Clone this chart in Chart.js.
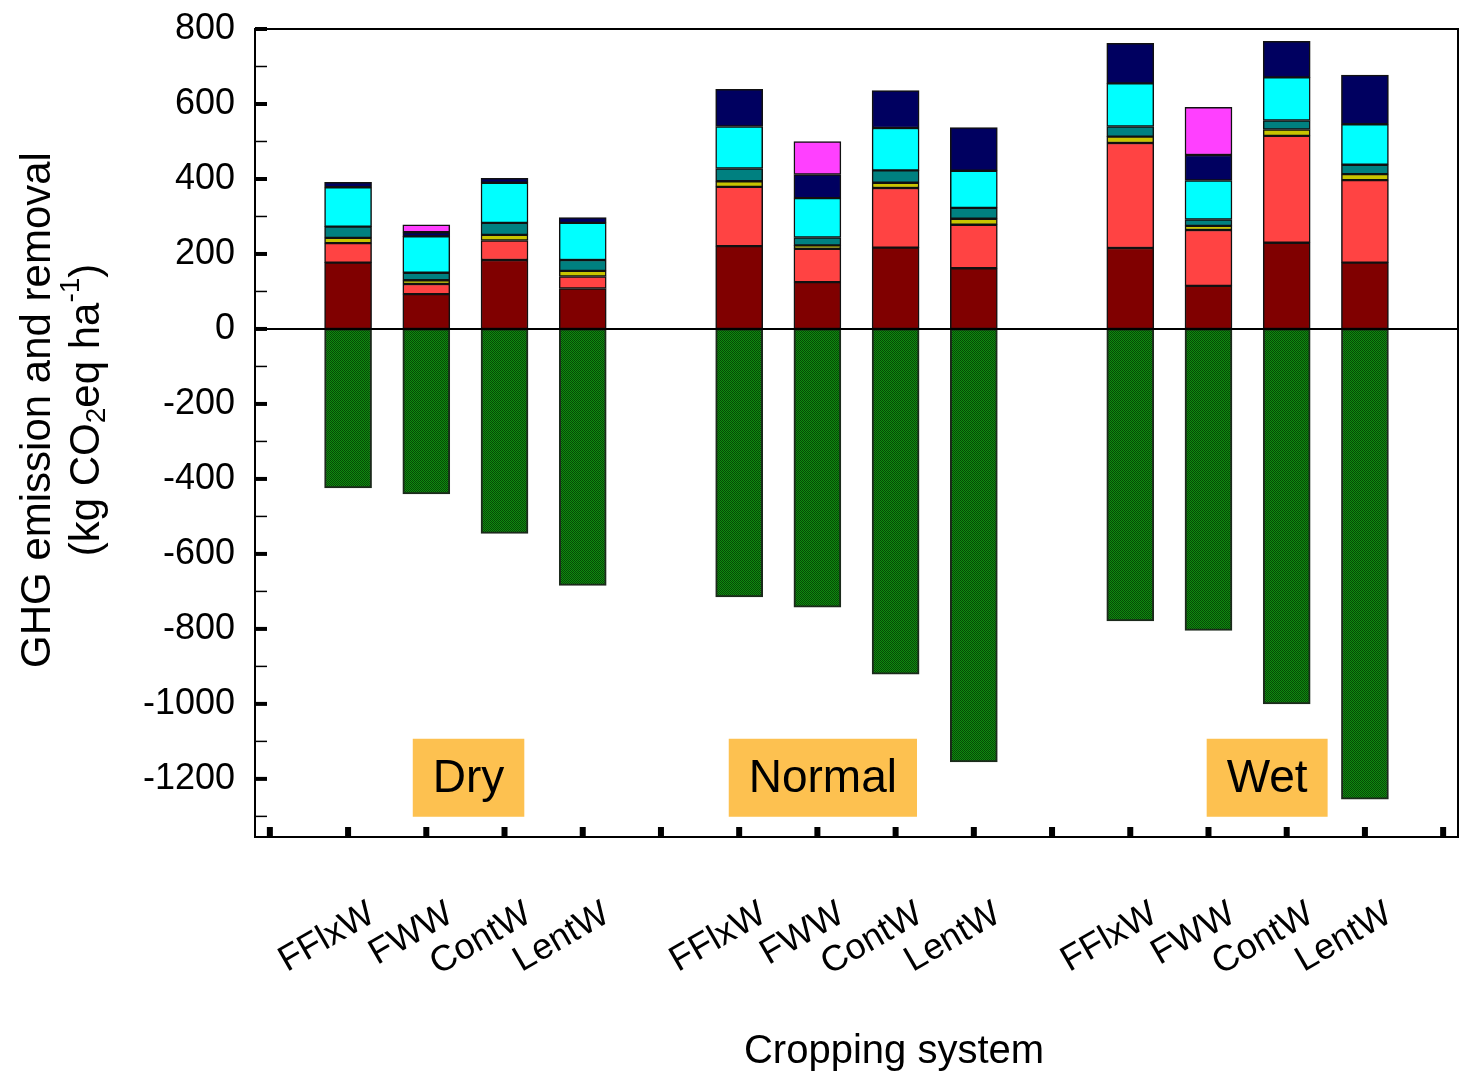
<!DOCTYPE html>
<html lang="en">
<head>
<meta charset="UTF-8">
<title>GHG emission and removal</title>
<script src="https://cdn.jsdelivr.net/npm/chart.js"></script>
<style>
  html, body { margin: 0; padding: 0; background: #fff; }
  #wrap { width: 1460px; height: 1081px; }
</style>
</head>
<body>
<div id="wrap"><canvas id="ghgChart" width="1460" height="1081"></canvas></div>
<script>
// categories
const seasons = ['Dry', 'Normal', 'Wet'];
const crops = ['FFlxW', 'FWW', 'ContW', 'LentW'];

// bar order: Dry (FFlxW, FWW, ContW, LentW), Normal (...), Wet (...)
const emission1 = [177, 93, 184, 108, 221, 125, 217, 162, 216, 115, 230, 177];
const emission2 = [52, 27, 52, 32, 158, 89, 159, 116, 280, 149, 285, 220];
const emission3 = [14, 10, 15, 15, 15, 9, 14, 16, 17, 11, 17, 16];
const emission4 = [30, 20, 32, 29, 34, 21, 33, 29, 27, 17, 24, 25];
const emission5 = [105, 97, 107, 99, 112, 105, 113, 99, 115, 104, 115, 108];
const emission6 = [13, 11, 12, 14, 99, 63, 100, 115, 107, 68, 96, 131];
const emission7 = [null, 20, null, null, null, 88, null, null, null, 127, null, null];
const removal = [-424, -440, -545, -684, -715, -742, -921, -1155, -779, -804, -1000, -1254];

// y axis
const yMin = -1355, yMax = 800, yStep = 200;

// season label boxes (x in slot units, y in data units)
const seasonLabelX = [2.54, 7.07, 12.75];
const seasonLabelY = -1197;

const emissionColors = ['#800000', '#ff4343', '#c8c400', '#008080', '#00ffff', '#000060', '#ff40ff'];
const FONT = "'Liberation Sans', Arial, sans-serif";

// slots: a blank gap before every season and one at the end
const slotLabels = [];
seasons.forEach(() => { slotLabels.push(''); crops.forEach(c => slotLabels.push(c)); });
slotLabels.push('');
const barSlot = [];
seasons.forEach((s, si) => crops.forEach((c, ci) => barSlot.push(si * (crops.length + 1) + ci + 1)));

function points(values) {
  return values.map((v, i) => ({ x: barSlot[i], y: v })).filter(p => p.y !== null);
}

const ctx = document.getElementById('ghgChart').getContext('2d');

function makeHatch() {
  const c = document.createElement('canvas');
  c.width = 2; c.height = 2;
  const g = c.getContext('2d');
  g.fillStyle = '#108a10';
  g.fillRect(0, 0, 2, 2);
  g.fillStyle = '#054a05';
  g.fillRect(0, 0, 1, 1);
  g.fillRect(1, 1, 1, 1);
  return ctx.createPattern(c, 'repeat');
}

const emissionSeries = [emission1, emission2, emission3, emission4, emission5, emission6, emission7];
const datasets = emissionSeries.map((vals, i) => ({
  label: 'Emission ' + (i + 1),
  data: points(vals),
  backgroundColor: emissionColors[i],
  borderColor: '#111',
  borderWidth: 1.5,
  borderSkipped: false,
  barThickness: 47
}));
datasets.push({
  label: 'Removal',
  data: points(removal),
  backgroundColor: makeHatch(),
  borderColor: '#1c2a1c',
  borderWidth: 2,
  borderSkipped: false,
  barThickness: 47
});

const decorations = {
  id: 'decorations',
  afterDatasetsDraw(chart) {
    const { ctx, chartArea: a, scales: { x, y } } = chart;
    ctx.save();
    ctx.strokeStyle = '#000';
    ctx.fillStyle = '#000';

    // zero line
    const y0 = y.getPixelForValue(0);
    ctx.lineWidth = 2;
    ctx.beginPath(); ctx.moveTo(a.left, y0); ctx.lineTo(a.right, y0); ctx.stroke();

    // frame
    ctx.strokeRect(a.left, a.top, a.right - a.left, a.bottom - a.top);

    // y ticks, pointing inward
    for (let v = -1300; v <= yMax; v += 100) {
      const py = y.getPixelForValue(v);
      const major = v % 200 === 0;
      ctx.lineWidth = major ? 4 : 1.5;
      ctx.beginPath(); ctx.moveTo(a.left, py); ctx.lineTo(a.left + 12, py); ctx.stroke();
    }
    // x ticks, pointing inward
    for (let i = 0; i < slotLabels.length; i++) {
      const px = x.getPixelForValue(i);
      ctx.fillRect(px - 3, a.bottom - 10, 6, 10);
    }

    // season boxes
    ctx.font = '46px ' + FONT;
    ctx.textAlign = 'center';
    ctx.textBaseline = 'middle';
    seasons.forEach((s, i) => {
      const cx = x.getPixelForValue(seasonLabelX[i]);
      const cy = y.getPixelForValue(seasonLabelY);
      const w = ctx.measureText(s).width + 40;
      ctx.fillStyle = '#fdc150';
      ctx.fillRect(cx - w / 2, cy - 39, w, 78);
      ctx.fillStyle = '#000';
      ctx.fillText(s, cx, cy + 2);
    });

    // x title
    ctx.font = '40px ' + FONT;
    ctx.fillText('Cropping system', 894, 1052);

    // y title
    ctx.translate(38, 410);
    ctx.rotate(-Math.PI / 2);
    ctx.font = '42px ' + FONT;
    ctx.fillText('GHG emission and removal', 0, 0);
    ctx.translate(0, 49);
    const runs = [
      { t: '(kg CO', size: 42, dy: 0 },
      { t: '2', size: 28, dy: 10 },
      { t: 'eq ha', size: 42, dy: 0 },
      { t: '-1', size: 28, dy: -16 },
      { t: ')', size: 42, dy: 0 }
    ];
    let total = 0;
    runs.forEach(r => { ctx.font = r.size + 'px ' + FONT; r.w = ctx.measureText(r.t).width; total += r.w; });
    let px = -total / 2;
    ctx.textAlign = 'left';
    runs.forEach(r => {
      ctx.font = r.size + 'px ' + FONT;
      ctx.fillText(r.t, px, r.dy);
      px += r.w;
    });
    ctx.restore();
  }
};

new Chart(ctx, {
  type: 'bar',
  data: { datasets },
  options: {
    responsive: false,
    animation: false,
    layout: { padding: { top: 29, right: 2, left: 0, bottom: 0 } },
    plugins: { legend: { display: false }, tooltip: { enabled: false } },
    scales: {
      x: {
        type: 'linear',
        stacked: true,
        offset: false,
        min: -0.19,
        max: 15.19,
        grid: { display: false, drawTicks: false, offset: false },
        border: { display: false },
        ticks: {
          stepSize: 1,
          autoSkip: false,
          includeBounds: false,
          minRotation: 30,
          maxRotation: 30,
          labelOffset: 24,
          padding: 56,
          color: '#000',
          font: { family: FONT, size: 36 },
          callback: v => slotLabels[v] || ''
        },
        afterFit(s) {
          s.height = 244;
          s.paddingLeft = 0; s.paddingRight = 0;
        }
      },
      y: {
        stacked: true,
        min: yMin,
        max: yMax,
        grid: { display: false, drawTicks: false },
        border: { display: false },
        ticks: {
          stepSize: yStep,
          includeBounds: false,
          padding: 20,
          color: '#000',
          font: { family: FONT, size: 36 },
          callback: v => String(v)
        },
        afterFit(s) {
          s.width = 255;
          s.paddingTop = 0; s.paddingBottom = 0;
        }
      }
    }
  },
  plugins: [decorations]
});
</script>
</body>
</html>
